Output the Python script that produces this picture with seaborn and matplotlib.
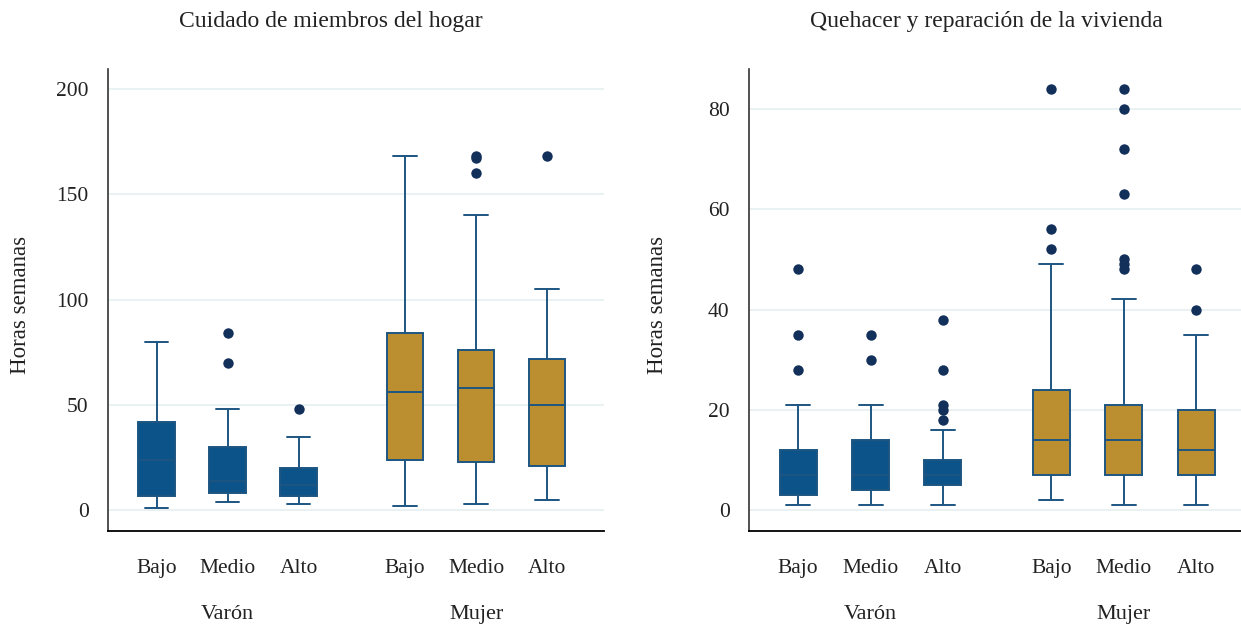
import pandas as pd
import matplotlib
matplotlib.use("Agg")
import matplotlib.pyplot as plt
import matplotlib.transforms as mtransforms
import seaborn as sns

# Grupos y niveles
sexos = ["Varón", "Mujer"]
niveles = ["Bajo", "Medio", "Alto"]

# Cuidado de miembros del hogar (Varón Bajo/Medio/Alto, Mujer Bajo/Medio/Alto)
cuidado_min = [1, 4, 3, 2, 3, 5]
cuidado_q1 = [7, 8, 7, 24, 23, 21]
cuidado_med = [24, 14, 12, 56, 58, 50]
cuidado_q3 = [42, 30, 20, 84, 76, 72]
cuidado_max = [80, 48, 35, 168, 140, 105]
cuidado_atipicos = [[], [70, 84], [48], [], [160, 167, 168], [168]]

# Quehacer y reparación de la vivienda
quehacer_min = [1, 1, 1, 2, 1, 1]
quehacer_q1 = [3, 4, 5, 7, 7, 7]
quehacer_med = [7, 7, 7, 14, 14, 12]
quehacer_q3 = [12, 14, 10, 24, 21, 20]
quehacer_max = [21, 21, 16, 49, 42, 35]
quehacer_atipicos = [[28, 35, 48], [30, 35], [18, 20, 21, 28, 38],
                     [52, 56, 84], [48, 49, 50, 63, 72, 80, 84], [40, 48]]

# Colores
azul = "#0b5389"
dorado = "#bb8f30"
linea = "#1d5582"
punto = "#13305a"
grilla = "#eaf1f3"

SEP = 3.5     # separacion entre grupos (en unidades de caja)
ANCHO = 0.51  # ancho de caja


def armar(mins, q1s, meds, q3s, maxs, atipicos):
    cajas, puntos = [], []
    for i in range(6):
        sexo = sexos[i // 3]
        nivel = niveles[i % 3]
        pos = i % 3 + (i // 3) * SEP
        for v in (mins[i], q1s[i], meds[i], q3s[i], maxs[i]):
            cajas.append({"pos": pos, "sexo": sexo, "nivel": nivel, "horas": v})
        for v in atipicos[i]:
            puntos.append({"pos": pos, "sexo": sexo, "nivel": nivel, "horas": v})
    return pd.DataFrame(cajas), pd.DataFrame(puntos)


sns.set_style("white")
plt.rcParams["font.family"] = ["Liberation Serif", "DejaVu Serif"]


def panel(ax, cajas, puntos, titulo, ylim, yticks, xlim, xtit, xlab):
    ax.grid(axis="y", color=grilla, linewidth=1.4)
    ax.set_axisbelow(True)
    sns.boxplot(data=cajas, x="pos", y="horas", hue="sexo",
                palette={"Varón": azul, "Mujer": dorado},
                native_scale=True, dodge=False, width=ANCHO, whis=(0, 100),
                showfliers=False, linecolor=linea, linewidth=1.4,
                saturation=1, legend=False, ax=ax)

    # bigotes un poco mas anchos, como en el original
    for ln in ax.lines:
        xs, ys = ln.get_xdata(), ln.get_ydata()
        if len(xs) == 2 and ys[0] == ys[1]:
            w = abs(xs[1] - xs[0])
            if abs(w - ANCHO / 2) < 1e-6:
                c = (xs[0] + xs[1]) / 2
                ln.set_xdata([c - ANCHO * 0.325, c + ANCHO * 0.325])

    sns.stripplot(data=puntos, x="pos", y="horas", native_scale=True,
                  jitter=False, color=punto, size=7.5, linewidth=0,
                  ax=ax, legend=False, zorder=3)

    pos = sorted(cajas["pos"].unique())
    ax.set_xlim(*xlim)
    ax.set_ylim(*ylim)
    ax.set_yticks(yticks)
    ax.set_yticklabels([str(t) for t in yticks])
    ax.set_xticks(pos)
    ax.set_xticklabels(niveles * 2)
    ax.tick_params(axis="x", length=0, pad=20, labelsize=15.5, colors="#222222")
    ax.tick_params(axis="y", length=7, width=1.1, pad=7, labelsize=15.5,
                   colors="#222222")
    ax.set_xlabel("")
    ax.set_ylabel("Horas semanas", fontsize=16.5, color="#222222")
    ax.yaxis.set_label_coords(xlab, 0.49)
    ax.set_title(titulo, fontsize=17, x=xtit, pad=30, color="#222222")

    trans = mtransforms.blended_transform_factory(ax.transData, ax.transAxes)
    for k, s in enumerate(sexos):
        centro = sum(pos[k * 3:(k + 1) * 3]) / 3
        ax.text(centro, -0.18, s, transform=trans, ha="center", va="center",
                fontsize=16, color="#222222")

    sns.despine(ax=ax)
    ax.spines["left"].set_color("#333333")
    ax.spines["left"].set_linewidth(1.2)
    ax.spines["bottom"].set_color("black")
    ax.spines["bottom"].set_linewidth(1.3)


fig = plt.figure(figsize=(12.41, 6.27), dpi=100)
ax1 = fig.add_axes([108 / 1241, 96 / 627, 496 / 1241, 462 / 627])
ax2 = fig.add_axes([749 / 1241, 96 / 627, 492 / 1241, 462 / 627])

c1, p1 = armar(cuidado_min, cuidado_q1, cuidado_med, cuidado_q3, cuidado_max, cuidado_atipicos)
c2, p2 = armar(quehacer_min, quehacer_q1, quehacer_med, quehacer_q3, quehacer_max, quehacer_atipicos)

panel(ax1, c1, p1, "Cuidado de miembros del hogar", (-9.8, 209.4),
      [0, 50, 100, 150, 200], (-0.683, 6.3), 0.45, -0.155)
panel(ax2, c2, p2, "Quehacer y reparación de la vivienda", (-4.1, 87.9),
      [0, 20, 40, 60, 80], (-0.68, 6.12), 0.482, -0.165)

fig.savefig("out.png", dpi=100, facecolor="white")
